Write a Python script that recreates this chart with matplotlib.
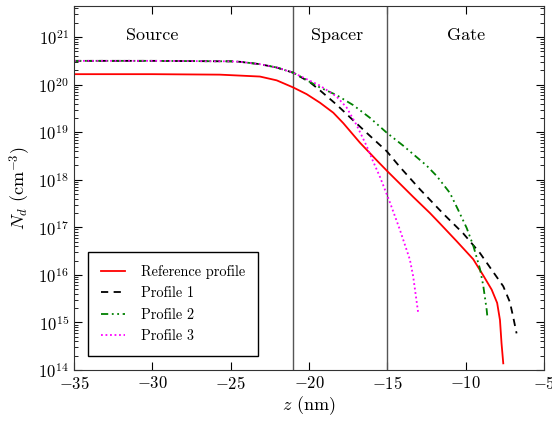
import numpy as np
import matplotlib
matplotlib.use('Agg')
import matplotlib.pyplot as plt

plt.rcParams['font.family'] = 'serif'
plt.rcParams['font.serif'] = ['cmr10', 'DejaVu Serif']
plt.rcParams['mathtext.fontset'] = 'cm'
plt.rcParams['axes.formatter.use_mathtext'] = True

#Doping profiles (z in nm, log10 of Nd in cm^-3)
z_ref = [-35, -30, -25.7, -24.4, -23.13, -22.06, -21.0, -20.15, -19.3, -18.45, -17.81, -16.75, -15.68, -15.0, -13.35, -12.28, -11.64, -10.58, -9.52, -8.88, -8.34, -7.99, -7.81, -7.71, -7.6]
lg_ref = [20.22, 20.22, 20.21, 20.19, 20.17, 20.09, 19.94, 19.80, 19.62, 19.41, 19.19, 18.78, 18.41, 18.18, 17.64, 17.3, 17.08, 16.71, 16.33, 15.99, 15.69, 15.41, 15.05, 14.56, 14.14]

z_p1 = [-35, -30, -25, -24.4, -23.13, -22.06, -21.0, -19.94, -19.3, -18.24, -17.18, -16.1, -15.04, -14.2, -12.92, -11.85, -11.32, -10.15, -9.09, -8.24, -7.6, -7.18, -6.97, -6.75]
lg_p1 = [20.5, 20.5, 20.49, 20.48, 20.43, 20.36, 20.25, 20.05, 19.88, 19.58, 19.25, 18.92, 18.6, 18.27, 17.8, 17.43, 17.25, 16.87, 16.46, 16.06, 15.76, 15.43, 15.12, 14.77]

z_p2 = [-35, -30, -25, -24.4, -23.13, -22.06, -21.0, -19.3, -18.24, -17.18, -16.1, -15.04, -14.0, -12.5, -11.85, -11.0, -10.47, -9.94, -9.52, -9.09, -8.88, -8.66, -8.6]
lg_p2 = [20.5, 20.5, 20.49, 20.48, 20.43, 20.36, 20.25, 19.94, 19.78, 19.57, 19.3, 18.99, 18.72, 18.3, 18.08, 17.72, 17.36, 16.99, 16.62, 16.13, 15.78, 15.27, 15.07]

z_p3 = [-35, -30, -25, -24.4, -23.13, -22.06, -21.0, -19.3, -18.24, -17.6, -16.96, -16.32, -15.9, -15.47, -14.83, -14.2, -13.56, -13.35, -13.03]
lg_p3 = [20.5, 20.5, 20.49, 20.48, 20.43, 20.36, 20.25, 19.98, 19.75, 19.52, 19.15, 18.71, 18.38, 18.06, 17.52, 16.95, 16.32, 15.97, 15.2]

region_names = ['Source', 'Spacer', 'Gate']
region_x = [-30.0, -18.2, -10.0]
boundaries = [-21, -15]

fig = plt.figure(figsize=(5.52, 4.23), dpi=100)
ax = fig.add_axes([0.134, 0.1253, 0.8515, 0.8605])

for b in boundaries:
	ax.axvline(b, color='#555555', lw=1.0)

ax.semilogy(z_ref, 10**np.array(lg_ref), color='red', lw=1.3, label='Reference profile')
ax.semilogy(z_p1, 10**np.array(lg_p1), color='black', lw=1.3, ls=(0, (4, 3)), label='Profile 1')
ax.semilogy(z_p2, 10**np.array(lg_p2), color='green', lw=1.3, ls=(0, (4, 2, 1, 2, 1, 2)), label='Profile 2')
ax.semilogy(z_p3, 10**np.array(lg_p3), color='magenta', lw=1.3, ls=(0, (1, 1.5)), label='Profile 3')

for name, x in zip(region_names, region_x):
	ax.text(x, 1.1e21, name, ha='center', va='center', fontsize=13)

ax.set_xlim(-35, -5)
ax.set_ylim(1e14, 4.5e21)
ax.set_xlabel('$z$ (nm)', fontsize=13, labelpad=2)
ax.set_ylabel('$N_d$ (cm$^{-3}$)', fontsize=13)
ax.tick_params(which='both', direction='in', top=True, right=True, labelsize=12)
ax.tick_params(which='major', length=6)
ax.tick_params(which='minor', length=3)
for s in ax.spines.values():
	s.set_color('#333333')

leg = ax.legend(loc='lower left', bbox_to_anchor=(0.03, 0.038), fontsize=10.3, fancybox=False, edgecolor='black', framealpha=1, handlelength=1.7, handletextpad=1.1, borderpad=0.9, borderaxespad=0, labelspacing=0.55)
leg.get_frame().set_linewidth(1.0)

fig.savefig('out.png', dpi=100)
